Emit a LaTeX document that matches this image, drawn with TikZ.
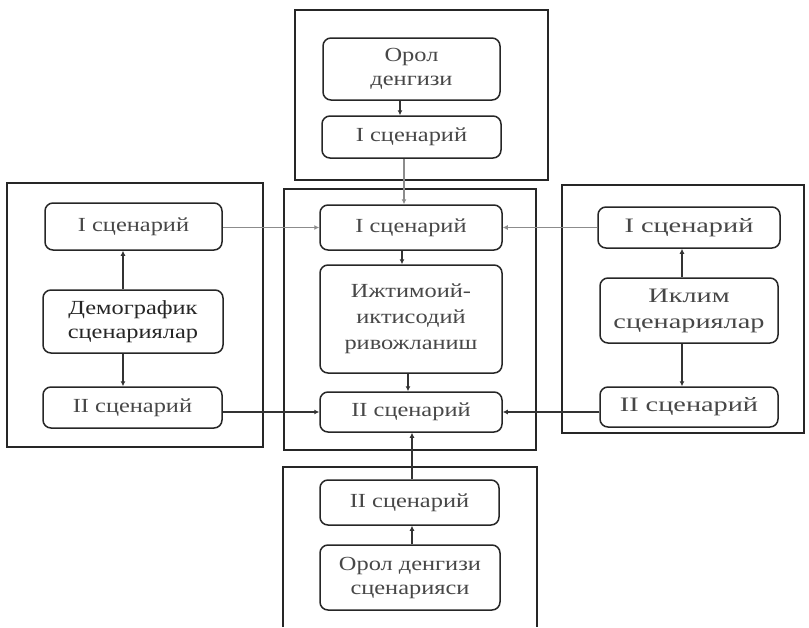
\documentclass[tikz,border=0pt]{standalone}
\usepackage{fontspec}
\setmainfont{Liberation Serif}
\newfontfamily\widefont[FakeStretch=1.22]{Liberation Serif}
\newfontfamily\widerfont[FakeStretch=1.38]{Liberation Serif}
\usetikzlibrary{arrows.meta}
\tikzset{
  frame/.style={draw=black!85, line width=1.6pt},
  inbox/.style={draw=black!85, line width=1.5pt, rounded corners=8pt, align=center,
    text=black!72, font=\widefont\fontsize{20}{24}\selectfont, inner sep=1pt},
  rbox/.style={inbox, font=\widerfont\fontsize{20.5}{26}\selectfont},
  arr/.style={draw=black!80, line width=1.1pt, -{Latex[length=5pt,width=5pt]}},
  garr/.style={draw=black!45, line width=1.1pt, -{Latex[length=5pt,width=5pt]}},
}
\begin{document}
\begin{tikzpicture}[x=1pt,y=-1pt]
\useasboundingbox (0,0) rectangle (809,627);
% frames
\draw[frame] (295,10) rectangle (548,180);
\draw[frame] (284,189) rectangle (536,450);
\draw[frame] (7,183) rectangle (263,447);
\draw[frame] (562,185) rectangle (804,433);
\draw[frame] (283,627) -- (283,467) -- (537,467) -- (537,627);
% boxes
\node[inbox, minimum width=177pt, minimum height=62pt] (orol) at (411.5,69) {Орол\\денгизи};
\node[inbox, minimum width=179pt, minimum height=42pt] (topI) at (411.5,137) {I сценарий};
\node[inbox, minimum width=182pt, minimum height=45pt] (cI) at (411,227.5) {I сценарий};
\node[inbox, minimum width=182pt, minimum height=108pt, font=\widefont\fontsize{20}{26}\selectfont] (ijt) at (411,319) {Ижтимоий-\\иктисодий\\ривожланиш};
\node[inbox, minimum width=182pt, minimum height=40pt] (cII) at (411,412) {II сценарий};
\node[inbox, minimum width=179pt, minimum height=45pt] (bII) at (409.5,502.5) {II сценарий};
\node[inbox, minimum width=180pt, minimum height=65pt] (bOrol) at (410,577.5) {Орол денгизи\\сценарияси};
\node[inbox, minimum width=177pt, minimum height=47pt] (lI) at (133.5,226.5) {I сценарий};
\node[inbox, minimum width=180pt, minimum height=63pt, text=black!85] (demo) at (133,321.5) {Демографик\\сценариялар};
\node[inbox, minimum width=179pt, minimum height=41pt] (lII) at (132.5,407.5) {II сценарий};
\node[rbox, minimum width=182pt, minimum height=41pt] (rI) at (689,227.5) {I сценарий};
\node[rbox, minimum width=178pt, minimum height=65pt] (iklim) at (689,310.5) {Иклим\\сценариялар};
\node[rbox, minimum width=178pt, minimum height=40pt] (rII) at (689,407) {II сценарий};
% vertical connectors
\draw[arr] (orol.south -| 400,0) -- (topI.north -| 400,0);
\draw[garr] (topI.south -| 404,0) -- (cI.north -| 404,0);
\draw[arr] (cI.south -| 402,0) -- (ijt.north -| 402,0);
\draw[arr] (ijt.south -| 408,0) -- (cII.north -| 408,0);
\draw[arr] (bII.north -| 412,0) -- (cII.south -| 412,0);
\draw[arr] (bOrol.north -| 412,0) -- (bII.south -| 412,0);
\draw[arr] (demo.north -| 123,0) -- (lI.south -| 123,0);
\draw[arr] (demo.south -| 123,0) -- (lII.north -| 123,0);
\draw[arr] (iklim.north -| 682,0) -- (rI.south -| 682,0);
\draw[arr] (iklim.south -| 682,0) -- (rII.north -| 682,0);
% horizontal connectors
\draw[garr] (lI.east |- cI.west) -- (cI.west);
\draw[garr] (rI.west |- cI.east) -- (cI.east);
\draw[arr] (lII.east |- cII.west) -- (cII.west);
\draw[arr] (rII.west |- cII.east) -- (cII.east);
\end{tikzpicture}
\end{document}
